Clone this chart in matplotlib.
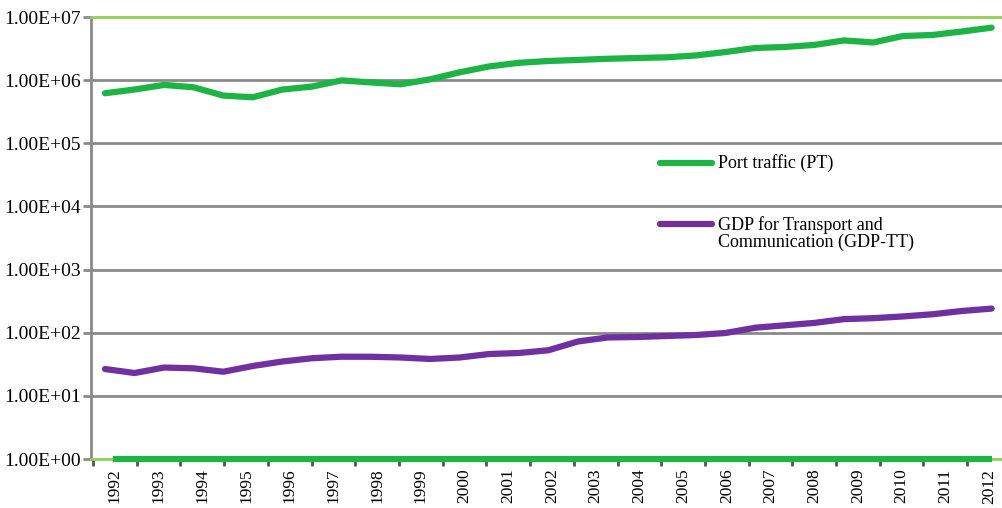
import numpy as np
import matplotlib
matplotlib.use("Agg")
import matplotlib.pyplot as plt
import matplotlib.ticker as mticker

# Year categories shown on the x axis
YEARS = [str(y) for y in range(1992, 2013)]

# Values (31 points along the x range)
PORT_TRAFFIC = [6.2e5, 7.1e5, 8.4e5, 7.7e5, 5.7e5, 5.35e5, 7.1e5, 7.9e5, 9.9e5, 9.2e5,
                8.6e5, 1.03e6, 1.33e6, 1.65e6, 1.88e6, 2.01e6, 2.09e6, 2.18e6, 2.24e6, 2.30e6,
                2.46e6, 2.79e6, 3.23e6, 3.35e6, 3.61e6, 4.25e6, 3.95e6, 5.0e6, 5.19e6, 5.9e6,
                6.78e6]
GDP_TT = [26.6, 23.0, 28.1, 27.3, 24.1, 29.7, 35.0, 39.4, 41.7, 41.6,
          40.5, 38.4, 40.5, 46.0, 47.7, 52.7, 72.6, 84.0, 85.5, 88.7,
          92.0, 99.0, 120, 131, 143, 164, 170, 181, 196, 221,
          241]

GREEN = "#1db446"
PURPLE = "#7030a0"
LIME = "#92d050"
GRID = "#8a8a8a"
FONT = "Liberation Serif"

plt.rcParams["font.family"] = FONT

fig = plt.figure(figsize=(10.03, 5.08), dpi=100)
ax = fig.add_axes([91 / 1003, 1 - 459 / 508, 912 / 1003, 442 / 508])

x = np.linspace(0.274, 20.56, len(PORT_TRAFFIC))

ax.set_yscale("log")
ax.set_ylim(1, 1e7)
ax.set_xlim(-0.046, 20.82)

for k in range(1, 7):
    ax.axhline(10 ** k, color=GRID, lw=2, zorder=1)

ax.plot(x, PORT_TRAFFIC, color=GREEN, lw=4.5, solid_capstyle="round", zorder=3)
ax.plot(x, GDP_TT, color=PURPLE, lw=4.5, solid_capstyle="round", zorder=3)
ax.hlines(1, 0.46, x[-1], color=GREEN, lw=4.5, zorder=4, clip_on=False)

ax.spines["right"].set_visible(False)
ax.spines["top"].set_color(LIME)
ax.spines["top"].set_linewidth(2)
ax.spines["bottom"].set_color(LIME)
ax.spines["bottom"].set_linewidth(2)
ax.spines["left"].set_color(GRID)
ax.spines["left"].set_linewidth(2)

ax.yaxis.set_major_locator(mticker.LogLocator(base=10, numticks=10))
ax.yaxis.set_minor_locator(mticker.NullLocator())
ax.yaxis.set_major_formatter(mticker.FuncFormatter(lambda v, p: f"{v:.2E}"))
ax.tick_params(axis="y", length=6, width=2, color=GRID, pad=1.5, labelsize=14)

ax.set_xticks(range(0, 21))
ax.set_xticklabels([])
ax.set_xticks(np.arange(len(YEARS)) + 0.5, minor=True)
ax.set_xticklabels(YEARS, minor=True, rotation=90)
ax.tick_params(axis="x", which="major", length=5, width=2, color="#555555")
ax.tick_params(axis="x", which="minor", length=0, pad=7, labelsize=12.5)
for lbl in ax.get_xticklabels(minor=True):
    lbl.set_va("top")

# legend drawn by hand
ax.plot([0.624, 0.681], [0.670, 0.670], transform=ax.transAxes, color=GREEN,
        lw=4.5, solid_capstyle="round", zorder=5)
ax.text(0.6875, 0.670, "Port traffic (PT)", transform=ax.transAxes,
        fontsize=13, va="center", ha="left")
ax.plot([0.624, 0.681], [0.532, 0.532], transform=ax.transAxes, color=PURPLE,
        lw=4.5, solid_capstyle="round", zorder=5)
ax.text(0.6875, 0.549, "GDP for Transport and\nCommunication (GDP-TT)",
        transform=ax.transAxes, fontsize=13, va="top", ha="left", linespacing=0.95)

fig.savefig("out.png", dpi=100)
